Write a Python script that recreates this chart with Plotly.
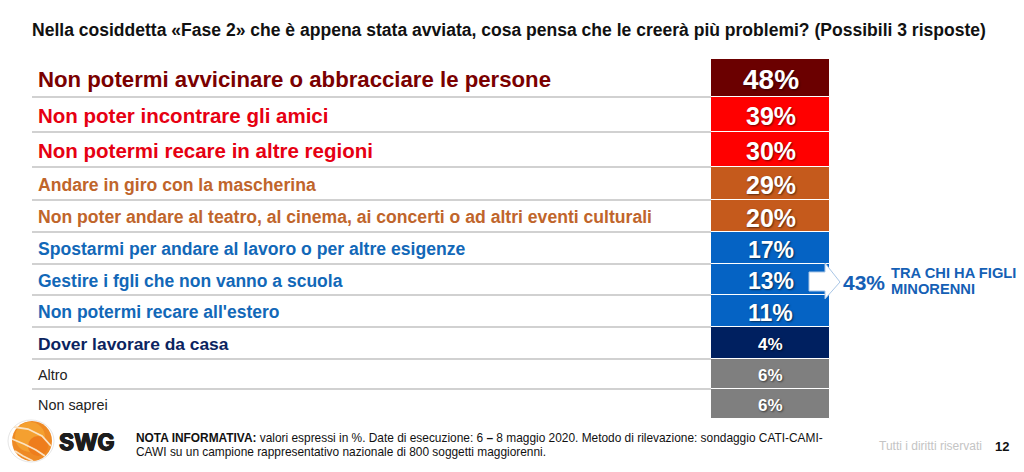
import plotly.graph_objects as go
import numpy as np

W, H = 1024, 472
TITLE = "Nella cosiddetta «Fase 2» che è appena stata avviata, cosa pensa che le creerà più problemi? (Possibili 3 risposte)"
categories = [
    "Non potermi avvicinare o abbracciare le persone",
    "Non poter incontrare gli amici",
    "Non potermi recare in altre regioni",
    "Andare in giro con la mascherina",
    "Non poter andare al teatro, al cinema, ai concerti o ad altri eventi culturali",
    "Spostarmi per andare al lavoro o per altre esigenze",
    "Gestire i fgli che non vanno a scuola",
    "Non potermi recare all'estero",
    "Dover lavorare da casa",
    "Altro",
    "Non saprei",
]
values = [48, 39, 30, 29, 20, 17, 13, 11, 4, 6, 6]

row_heights = [38, 35, 35, 33, 32, 32, 31, 32, 32, 30, 30]
bar_colors = ["#6b0000", "#ff0000", "#ff0000", "#c55a1c", "#c55a1c", "#0563c4", "#0563c4", "#0563c4",
              "#002060", "#7f7f7f", "#7f7f7f"]
label_colors = ["#7a0000", "#e60012", "#e60012", "#c0652b", "#c0652b", "#1268b8", "#1268b8", "#1268b8",
                "#0b2460", "#222222", "#222222"]
label_sizes = [22.2, 20.5, 20.5, 17.6, 17.6, 17.6, 17.5, 17.5, 17.4, 14.4, 14.4]
label_weights = ["bold"] * 9 + ["normal"] * 2
value_sizes = [28, 25, 25, 25, 25, 23, 23, 23, 17, 17, 17]

FONT = "Liberation Sans"
BAR_L, BAR_R, TOP, BOTTOM = 711, 830, 59, 419
TEXT_DROP = 1.5
edges = np.cumsum([0] + row_heights)
centers = (edges[:-1] + edges[1:]) / 2


def px(x):
    return x / W


def py(y):
    return 1 - y / H


fig = go.Figure()
fig.add_trace(go.Bar(
    orientation="h",
    x=[1] * len(values),
    y=centers,
    width=row_heights,
    marker=dict(color=bar_colors, line=dict(color="white", width=1)),
    hoverinfo="skip",
    showlegend=False,
))

annotations = []


def txt(x, y, text, size, color, anchor="left", yref="paper", **font):
    style = dict(family=FONT, size=size, color=color)
    style.update(font)
    annotations.append(dict(
        x=px(x), y=py(y) if yref == "paper" else y, xref="paper", yref=yref,
        text=text, showarrow=False, xanchor=anchor, yanchor="middle",
        align=anchor, font=style, borderpad=0, borderwidth=0,
    ))


def bold(s):
    return f"<b>{s}</b>"


txt(32, 30, bold(TITLE), 17.55, "#111111")
for c, yc, col, size, weight in zip(categories, centers, label_colors, label_sizes, label_weights):
    txt(38, float(yc) + TEXT_DROP - 0.5, bold(c) if weight == "bold" else c, size, col, yref="y")
for v, yc, size in zip(values, centers, value_sizes):
    txt((BAR_L + BAR_R) / 2, float(yc) + TEXT_DROP, bold(f"{v}%"), size, "white", anchor="center", yref="y",
        shadow="1px 1px 2px rgba(0,0,0,0.55)")

txt(843, 282, bold("43%"), 21, "#1560b5")
txt(891, 273, bold("TRA CHI HA FIGLI"), 14.7, "#1560b5")
txt(891, 289, bold("MINORENNI"), 14.7, "#1560b5")
txt(136, 437.5, bold("NOTA INFORMATIVA:") + " valori espressi in %. Date di esecuzione: 6 " + bold("–") +
    " 8 maggio 2020. Metodo di rilevazione: sondaggio CATI-CAMI-", 11.9, "#111111")
txt(136, 452, "CAWI su un campione rappresentativo nazionale di 800 soggetti maggiorenni.", 11.9, "#111111")
txt(879, 446, "Tutti i diritti riservati", 12, "#c4c4c4")
txt(995, 446, bold("12"), 13, "#111111")
txt(59, 442, bold("SWG"), 23, "#1d1d1d", family="Inter", weight=900,
    shadow="0.7px 0 0 #1d1d1d, -0.7px 0 0 #1d1d1d, 0 0.5px 0 #1d1d1d, 0 -0.5px 0 #1d1d1d")

shapes = []
for yv in edges[1:-1]:
    shapes.append(dict(type="line", xref="paper", yref="y", x0=px(32), x1=px(BAR_L),
                       y0=float(yv), y1=float(yv), line=dict(color="#a3a3a3", width=1), layer="below"))


def path(points, close=True):
    s = "M" + " L".join(f"{px(x):.5f},{py(y):.5f}" for x, y in points)
    return s + (" Z" if close else "")


arrow = [(809, 272), (825, 272), (825, 263), (840, 282), (825, 299), (825, 291), (809, 291)]
shapes.append(dict(type="path", xref="paper", yref="paper", path=path(arrow),
                   fillcolor="white", line=dict(color="#a9c6e6", width=1), layer="above"))


def circle(cx, cy, rx, ry, fill, line=None):
    shapes.append(dict(type="circle", xref="paper", yref="paper", x0=px(cx - rx), x1=px(cx + rx),
                       y0=py(cy + ry), y1=py(cy - ry), fillcolor=fill,
                       line=dict(color=line or fill, width=1 if line else 0)))


circle(31, 441, 23, 21, "rgba(0,0,0,0)", "#e6e6e6")
circle(32, 441, 20, 20, "#ee8a25")
circle(30, 437, 15, 15, "#f4a030")
circle(38, 446, 10, 10, "#ee7d1c")
for pts in ([(14, 427), (28, 429), (42, 436), (51, 446)],
            [(12, 439), (24, 444), (36, 450), (45, 456)],
            [(15, 451), (23, 456), (33, 461)]):
    shapes.append(dict(type="path", xref="paper", yref="paper", path=path(pts, close=False),
                       line=dict(color="#fbe3c2", width=1.8)))

fig.update_layout(
    width=W, height=H,
    margin=dict(l=0, r=0, t=0, b=0),
    paper_bgcolor="white", plot_bgcolor="white",
    bargap=0,
    xaxis=dict(domain=[px(BAR_L), px(BAR_R)], range=[0, 1], visible=False, fixedrange=True),
    yaxis=dict(domain=[py(BOTTOM), py(TOP)], range=[float(edges[-1]), 0], visible=False, fixedrange=True),
    annotations=annotations,
    shapes=shapes,
    showlegend=False,
)
fig.write_html("out.html", config=dict(displayModeBar=False),
               post_script="document.body.style.margin='0';document.body.style.overflow='hidden';")
